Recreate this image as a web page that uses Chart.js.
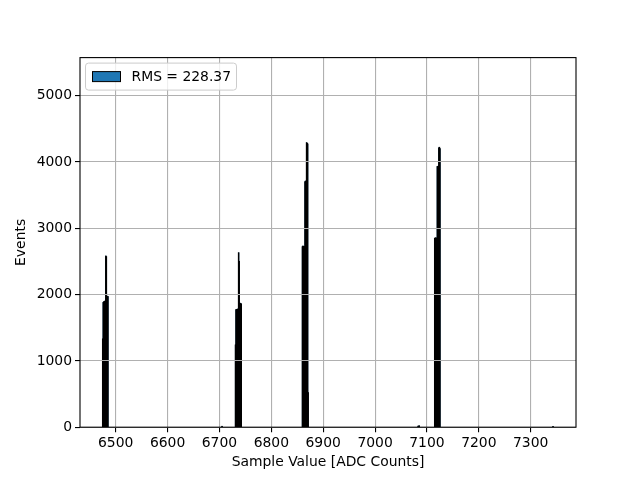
<!DOCTYPE html>
<html>
<head>
<meta charset="utf-8">
<script src="https://cdn.jsdelivr.net/npm/chart.js@4/dist/chart.umd.min.js"></script>
<style>
  body { margin: 0; background: #fff; }
  canvas { display: block; }
</style>
</head>
<body>
<canvas id="grafico" width="640" height="480"></canvas>
<script>
// histogram bins (ADC count) and events per bin
const binsPeak1 = [6475, 6476, 6477, 6478, 6479, 6480, 6481, 6482, 6483, 6484, 6485];
const eventsPeak1 = [1330, 1880, 1890, 1885, 1900, 1895, 2580, 2570, 1975, 1960, 1970];

const binsPeak2 = [6731, 6732, 6733, 6734, 6735, 6736, 6737, 6738, 6739, 6740, 6741, 6742];
const eventsPeak2 = [1240, 1770, 1775, 1765, 1780, 1770, 2630, 2500, 1870, 1860, 1865, 1855];

const binsPeak3 = [6860, 6861, 6862, 6863, 6864, 6865, 6866, 6867, 6868, 6869, 6870, 6871];
const eventsPeak3 = [2720, 2730, 2725, 2715, 2722, 3700, 3710, 3690, 4290, 4280, 4270, 520];

const binsPeak4 = [7115, 7116, 7117, 7118, 7119, 7120, 7121, 7122, 7123, 7124, 7125];
const eventsPeak4 = [2850, 2845, 2855, 2840, 2850, 3930, 3920, 3935, 4210, 4220, 4200];

const binsStray = [6705, 7083, 7085, 7343];
const eventsStray = [12, 15, 20, 10];

const xTicks = [6500, 6600, 6700, 6800, 6900, 7000, 7100, 7200, 7300];
const yTicks = [0, 1000, 2000, 3000, 4000, 5000];

const leyenda = "RMS = 228.37";
const tituloX = "Sample Value [ADC Counts]";
const tituloY = "Events";

const FUENTE = "'DejaVu Sans', sans-serif";

function juntar(bins, events) {
  return bins.map((b, i) => ({ x: b, y: events[i] }));
}

const puntos = [
  ...juntar(binsPeak1, eventsPeak1),
  ...juntar(binsPeak2, eventsPeak2),
  ...juntar(binsPeak3, eventsPeak3),
  ...juntar(binsPeak4, eventsPeak4),
  ...juntar(binsStray, eventsStray)
].sort((a, b) => a.x - b.x);

// contorno negro de cada barra, como el edgecolor de matplotlib
const contornoBarras = {
  id: "contornoBarras",
  afterDatasetsDraw(chart) {
    const { ctx } = chart;
    ctx.save();
    ctx.strokeStyle = "#000";
    ctx.lineWidth = 1;
    chart.getDatasetMeta(0).data.forEach(bar => {
      const p = bar.getProps(["x", "y", "base", "width"], true);
      ctx.strokeRect(p.x - p.width / 2, p.y, p.width, p.base - p.y);
    });
    ctx.restore();
  }
};

// marco de los ejes y leyenda estilo matplotlib
const marcoYLeyenda = {
  id: "marcoYLeyenda",
  afterDraw(chart) {
    const { ctx, chartArea: a } = chart;
    ctx.save();
    ctx.strokeStyle = "#000";
    ctx.lineWidth = 1.1;
    ctx.strokeRect(a.left, a.top, a.right - a.left, a.bottom - a.top);

    // caja de la leyenda
    const x = a.left + 5.5, y = a.top + 5.5, w = 151, h = 27, r = 3;
    ctx.beginPath();
    ctx.moveTo(x + r, y);
    ctx.arcTo(x + w, y, x + w, y + h, r);
    ctx.arcTo(x + w, y + h, x, y + h, r);
    ctx.arcTo(x, y + h, x, y, r);
    ctx.arcTo(x, y, x + w, y, r);
    ctx.closePath();
    ctx.fillStyle = "rgba(255,255,255,0.8)";
    ctx.fill();
    ctx.strokeStyle = "#cccccc";
    ctx.lineWidth = 1;
    ctx.stroke();

    ctx.fillStyle = "#1f77b4";
    ctx.fillRect(x + 7, y + 8.5, 28, 10);
    ctx.strokeStyle = "#000";
    ctx.lineWidth = 1;
    ctx.strokeRect(x + 7, y + 8.5, 28, 10);

    ctx.fillStyle = "#000";
    ctx.font = "13.9px " + FUENTE;
    ctx.textBaseline = "middle";
    ctx.fillText(leyenda, x + 46, y + 14);
    ctx.restore();
  }
};

Chart.defaults.font.family = FUENTE;
Chart.defaults.font.size = 13.9;
Chart.defaults.color = "#000";

new Chart(document.getElementById("grafico"), {
  type: "bar",
  data: {
    datasets: [{
      label: leyenda,
      data: puntos,
      backgroundColor: "#1f77b4",
      borderWidth: 0,
      barPercentage: 1,
      categoryPercentage: 1
    }]
  },
  options: {
    responsive: false,
    animation: false,
    layout: { padding: { left: 0, right: 64, top: 57.6, bottom: 0 } },
    plugins: { legend: { display: false }, tooltip: { enabled: false } },
    scales: {
      x: {
        type: "linear",
        offset: false,
        min: 6431.2,
        max: 7387.3,
        afterFit: s => { s.height = 52.8; },
        afterBuildTicks: s => { s.ticks = xTicks.map(v => ({ value: v })); },
        ticks: { includeBounds: false, padding: 3, maxRotation: 0, autoSkip: false, callback: v => String(v) },
        grid: { z: 1, offset: false, color: "#b0b0b0", lineWidth: 1.1, tickColor: "#000", tickLength: 5 },
        border: { display: false },
        title: { display: true, text: tituloX, padding: { top: 0, bottom: 9.5 } }
      },
      y: {
        min: 0,
        max: 5574,
        afterFit: s => { s.width = 80; },
        afterBuildTicks: s => { s.ticks = yTicks.map(v => ({ value: v })); },
        ticks: { includeBounds: false, padding: 3, callback: v => String(v) },
        grid: { z: 1, color: "#b0b0b0", lineWidth: 1.1, tickColor: "#000", tickLength: 5 },
        border: { display: false },
        title: { display: true, text: tituloY, padding: { top: 13.5, bottom: 0 } }
      }
    }
  },
  plugins: [contornoBarras, marcoYLeyenda]
});
</script>
</body>
</html>
